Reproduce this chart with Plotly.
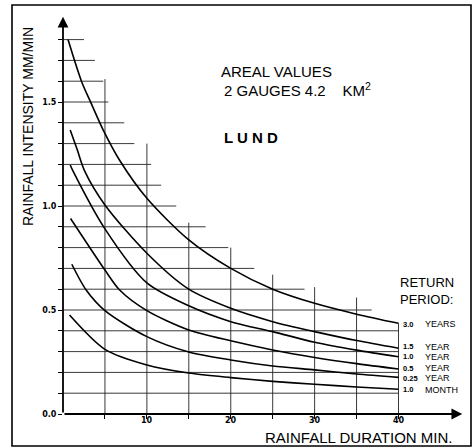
import plotly.graph_objects as go

# ---------------- data ----------------
label_nums = ["3.0", "1.5", "1.0", "0.5", "0.25", "1.0"]
label_units = ["YEARS", "YEAR", "YEAR", "YEAR", "YEAR", "MONTH"]

dur_3y = [0.6, 2.2, 3.4, 4.8, 6.75, 10, 15, 20, 25, 30, 35, 40]
int_3y = [1.80, 1.60, 1.49, 1.365, 1.22, 1.037, 0.837, 0.70, 0.60, 0.532, 0.48, 0.436]
dur_15y = [0.86, 1.7, 2.56, 5, 10, 15, 20, 25, 30, 35, 40]
int_15y = [1.365, 1.27, 1.17, 1.005, 0.773, 0.60, 0.508, 0.444, 0.396, 0.353, 0.316]
dur_1y = [0.86, 1.17, 5, 10, 15, 20, 25, 30, 35, 40]
int_1y = [1.197, 1.17, 0.89, 0.63, 0.52, 0.444, 0.396, 0.345, 0.307, 0.275]
dur_05y = [0.9, 5, 6.75, 10, 15, 20, 25, 30, 35, 40]
int_05y = [0.94, 0.692, 0.596, 0.497, 0.404, 0.352, 0.308, 0.272, 0.242, 0.216]
dur_025y = [1.05, 2.76, 5, 10, 15, 20, 25, 30, 35, 40]
int_025y = [0.72, 0.596, 0.497, 0.372, 0.298, 0.26, 0.231, 0.212, 0.192, 0.176]
dur_1m = [0.78, 5, 10, 15, 20, 25, 30, 35, 40]
int_1m = [0.476, 0.311, 0.236, 0.197, 0.175, 0.157, 0.143, 0.13, 0.119]

curves = [(dur_3y, int_3y), (dur_15y, int_15y), (dur_1y, int_1y),
          (dur_05y, int_05y), (dur_025y, int_025y), (dur_1m, int_1m)]

x_tick_vals = [5, 10, 15, 20, 25, 30, 35, 40]
x_tick_text = ["", "10", "", "20", "", "30", "", "40"]
y_tick_vals = [round(0.1 * i, 1) for i in range(19)]
y_tick_text = ["0.0", "", "", "", "", "0.5", "", "", "", "", "1.0", "", "", "", "", "1.5", "", "", ""]

# staircase grid (hand-drawn)
grid_h_levels = [1.8, 1.7, 1.6, 1.5, 1.4, 1.3, 1.2, 1.1, 1.0, 0.9, 0.8, 0.7, 0.6, 0.5, 0.4, 0.3, 0.2, 0.1]
grid_h_ends = [2.5, 3.8, 4.8, 5.4, 7.3, 8.5, 10.5, 11.7, 13.5, 17, 19.7, 22.8, 28.8, 36.8, 40, 40, 40, 40]
grid_v_pos = [5, 10, 15, 20, 25, 30, 35, 40]
grid_v_tops = [1.61, 1.30, 0.92, 0.80, 0.67, 0.61, 0.56, 0.436]

# ---------------- layout geometry ----------------
W_PX, H_PX = 473, 448
L, R, T, B = 63, 7, 8, 34
PW, PH = W_PX - L - R, H_PX - T - B
label_yshift = [-1, 1.5, 0, 1, -1, -0.5]


def px(x):
    return (x - L) / PW


def py(y):
    return (T + PH - y) / PH


fig = go.Figure()
for dx, dy in curves:
    fig.add_trace(go.Scatter(x=dx, y=dy, mode="lines",
                             line=dict(color="black", width=1.6, shape="spline", smoothing=0.8),
                             showlegend=False, hoverinfo="skip"))

shapes = []
for lvl, xe in zip(grid_h_levels, grid_h_ends):
    shapes.append(dict(type="line", xref="x", yref="y", x0=0, x1=xe, y0=lvl, y1=lvl,
                       line=dict(color="#222", width=0.9), layer="below"))
for xv, yt in zip(grid_v_pos, grid_v_tops):
    shapes.append(dict(type="line", xref="x", yref="y", x0=xv, x1=xv, y0=0, y1=yt,
                       line=dict(color="#222", width=0.9), layer="below"))
# frame
shapes.append(dict(type="rect", xref="paper", yref="paper", x0=px(12), x1=px(471), y0=py(446), y1=py(5),
                   line=dict(color="black", width=1.6)))

ann = []
# axes with arrows
ann.append(dict(x=0, y=1.91, ax=0, ay=0, xref="x", yref="y", axref="x", ayref="y", text="",
                showarrow=True, arrowhead=2, arrowsize=1.2, arrowwidth=1.8, arrowcolor="black"))
ann.append(dict(x=47.6, y=0, ax=0, ay=0, xref="x", yref="y", axref="x", ayref="y", text="",
                showarrow=True, arrowhead=2, arrowsize=1.2, arrowwidth=1.8, arrowcolor="black"))

font_main = "Liberation Sans, Arial, sans-serif"


def text_ann(text, x, y, size, xanchor="left", angle=0):
    return dict(text=text, x=px(x), y=py(y), xref="paper", yref="paper", xanchor=xanchor,
                yanchor="middle", showarrow=False, textangle=angle,
                font=dict(family=font_main, size=size, color="black"))


ann.append(text_ann("RAINFALL INTENSITY MM/MIN", 28, 127, 14, xanchor="center", angle=-90))
ann.append(text_ann("RAINFALL DURATION MIN.", 455, 438, 15, xanchor="right"))
ann.append(text_ann("AREAL VALUES", 219, 71, 15))
ann.append(text_ann("2 GAUGES 4.2    KM<sup>2</sup>", 222, 89, 15))
ann.append(text_ann("<b>L U N D</b>", 222, 137, 15))
ann.append(text_ann("RETURN", 398, 282, 13))
ann.append(text_ann("PERIOD:", 398, 299, 13))

# x tick labels placed just under the axis
for tv, tt in zip(x_tick_vals, x_tick_text):
    if tt:
        ann.append(dict(text="<b>%s</b>" % tt, x=tv, y=py(421), xref="x", yref="paper",
                        xanchor="center", yanchor="middle", showarrow=False,
                        font=dict(family="DejaVu Sans", size=8, color="black")))

for (dx, dy), num, unit, ys in zip(curves, label_nums, label_units, label_yshift):
    ann.append(dict(text="<b>%s</b>" % num, x=dx[-1], y=dy[-1], xref="x", yref="y", xanchor="left",
                    yanchor="middle", xshift=2, yshift=ys, showarrow=False,
                    font=dict(family=font_main, size=7.5, color="black")))
    ann.append(dict(text=unit, x=dx[-1], y=dy[-1], xref="x", yref="y", xanchor="left",
                    yanchor="middle", xshift=24, yshift=ys, showarrow=False,
                    font=dict(family=font_main, size=9, color="black")))

fig.update_layout(
    width=W_PX, height=H_PX,
    margin=dict(l=L, r=R, t=T, b=B),
    paper_bgcolor="white", plot_bgcolor="white",
    shapes=shapes, annotations=ann,
    xaxis=dict(range=[0, 40 * PW / 335.5], showgrid=False, zeroline=False, showline=False,
               tickmode="array", tickvals=x_tick_vals, showticklabels=False,
               ticks="outside", ticklen=4, tickwidth=1.2, tickcolor="black"),
    yaxis=dict(range=[0, PH / 208.0], showgrid=False, zeroline=False, showline=False,
               tickmode="array", tickvals=y_tick_vals, ticktext=y_tick_text,
               ticks="outside", ticklen=4, tickwidth=1.2, tickcolor="black",
               tickfont=dict(family="DejaVu Sans", size=8, color="black", weight="bold")),
)

fig.write_html("out.html")
